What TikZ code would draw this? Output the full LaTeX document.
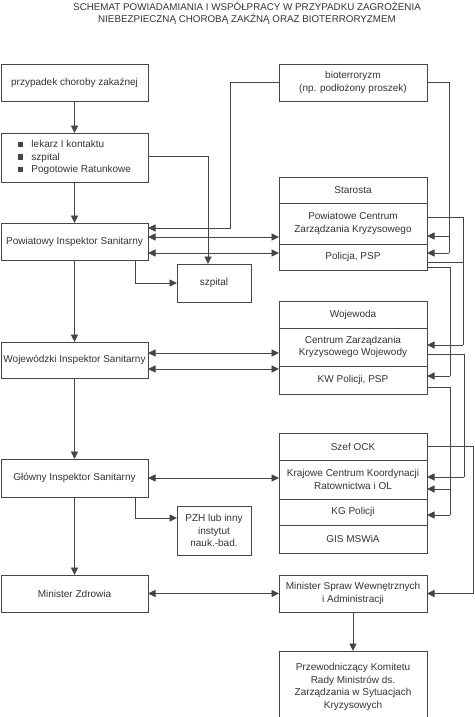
\documentclass[tikz,border=0pt]{standalone}
\usepackage{fontspec}
\setmainfont{Liberation Sans}
\usetikzlibrary{arrows.meta,calc}
\definecolor{lnc}{HTML}{454545}
\definecolor{txc}{HTML}{333333}
\newcommand{\bsq}{\textcolor{lnc}{\rule[0.3pt]{5.5pt}{5.5pt}}\hspace{8pt}}
\begin{document}
\begin{tikzpicture}[x=1pt,y=-1pt,
  box/.style={draw=lnc,line width=0.9pt,anchor=north west,inner sep=1pt,outer sep=0pt,align=center,text=txc,font=\fontsize{10}{12.7}\selectfont},
  lbox/.style={box,minimum width=147pt},
  rbox/.style={box,minimum width=148pt},
  sbox/.style={box,minimum width=74pt},
  wire/.style={draw=lnc,line width=0.9pt},
  arr/.style={wire,-{Triangle[length=7.5pt,width=7pt]}},
  arrb/.style={wire,{Triangle[length=7.5pt,width=7pt]}-{Triangle[length=7.5pt,width=7pt]}}]
\useasboundingbox (0,0) rectangle (474,717);

\node[text=txc,align=center,font=\fontsize{9.8}{12}\selectfont] (title) at (247,13)
  {SCHEMAT POWIADAMIANIA I WSPÓŁPRACY W PRZYPADKU ZAGROŻENIA\\NIEBEZPIECZNĄ CHOROBĄ ZAKŹNĄ ORAZ BIOTERRORYZMEM};

% left column
\node[lbox,minimum height=37pt] (prz) at (1,64) {przypadek choroby zakaźnej};
\node[lbox,minimum height=49pt,align=left] (lek) at (1,133)
  {\bsq lekarz I kontaktu\\\bsq szpital\\\bsq Pogotowie Ratunkowe};
\node[lbox,minimum height=37pt] (pis) at (1,223) {Powiatowy Inspektor Sanitarny};
\node[lbox,minimum height=36pt] (wis) at (1,342) {Wojewódzki Inspektor Sanitarny};
\node[lbox,minimum height=38pt] (gis) at (1,459) {Główny Inspektor Sanitarny};
\node[lbox,minimum height=37pt] (mz) at (1,575) {Minister Zdrowia};

% middle column
\node[sbox,minimum height=38pt] (szp) at (177,264) {szpital};
\node[sbox,minimum height=49pt] (pzh) at (177,506) {PZH lub inny\\instytut\\nauk.-bad.};

% right column
\node[rbox,minimum height=37pt] (bio) at (279,64) {bioterroryzm\\(np. podłożony proszek)};
\node[rbox,minimum height=26pt] (staro) at (279,177) {Starosta};
\node[rbox,minimum height=41pt] (pczk) at (279,203) {Powiatowe Centrum\\Zarządzania Kryzysowego};
\node[rbox,minimum height=26pt] (pol) at (279,244) {Policja, PSP};
\node[rbox,minimum height=27pt] (woj) at (279,301) {Wojewoda};
\node[rbox,minimum height=38pt] (czkw) at (279,328) {Centrum Zarządzania\\Kryzysowego Wojewody};
\node[rbox,minimum height=28pt] (kw) at (279,366) {KW Policji, PSP};
\node[rbox,minimum height=27pt] (szef) at (279,433) {Szef OCK};
\node[rbox,minimum height=39pt] (kckr) at (279,460) {Krajowe Centrum Koordynacji\\Ratownictwa i OL};
\node[rbox,minimum height=26pt] (kgp) at (279,499) {KG Policji};
\node[rbox,minimum height=28pt] (gmsw) at (279,525) {GIS MSWiA};
\node[rbox,minimum height=37pt] (msw) at (279,575) {Minister Spraw Wewnętrznych\\i Administracji};
\node[rbox,minimum height=72pt] (prze) at (279,651) {Przewodniczący Komitetu\\Rady Ministrów ds.\\Zarządzania w Sytuacjach\\Kryzysowych};

% left connectors
\coordinate (c1) at (230,228);
\draw[arr] (bio.west) -| (c1) -- (pis.east |- c1);
\draw[arr] (prz.south) -- (lek.north);
\draw[arr] (lek.south) -- (pis.north);
\coordinate (c2) at (208,156);
\draw[arr] (lek.east |- c2) -| (szp.north -| c2);
\coordinate (ya) at (0,237);
\draw[arrb] (pis.east |- ya) -- (pczk.west |- ya);
\coordinate (yb) at (0,253);
\draw[arrb] (pis.east |- yb) -- (pol.west |- yb);
\coordinate (c3) at (135,0);
\draw[arr] (pis.south -| c3) |- (szp.west);
\draw[arr] (pis.south) -- (wis.north);
\coordinate (yc) at (0,353);
\draw[arrb] (wis.east |- yc) -- (czkw.west |- yc);
\coordinate (yd) at (0,369);
\draw[arrb] (wis.east |- yd) -- (kw.west |- yd);
\draw[arr] (wis.south) -- (gis.north);
\coordinate (ye) at (0,478);
\draw[arrb] (gis.east |- ye) -- (kckr.west |- ye);
\coordinate (c4) at (135,518);
\draw[arr] (gis.south -| c4) |- (pzh.west |- c4);
\draw[arr] (gis.south) -- (mz.north);
\draw[arrb] (mz.east) -- (msw.west);
\draw[arr] (msw.south) -- (prze.north);

% right connectors
\coordinate (r1) at (449,253);
\draw[wire] (bio.east) -| (r1);
\draw[arr] (r1) -- (pol.east |- r1);
\coordinate (r2) at (449,236);
\draw[arr] (r2) -- (pczk.east |- r2);
\coordinate (r3) at (463,345);
\coordinate (r3a) at (0,217);
\draw[wire] (pczk.east |- r3a) -| (r3);
\coordinate (r3b) at (0,262);
\draw[wire] (pol.east |- r3b) -- (r3 |- r3b);
\draw[arr] (r3) -- (czkw.east |- r3);
\coordinate (r4) at (450,376);
\coordinate (r4a) at (0,267);
\draw[wire] (pol.east |- r4a) -| (r4);
\draw[arr] (r4) -- (kw.east |- r4);
\coordinate (r5) at (464,477);
\coordinate (r5a) at (0,354);
\draw[wire] (czkw.east |- r5a) -| (r5);
\draw[arr] (r5) -- (kckr.east |- r5);
\coordinate (r6) at (450,515);
\coordinate (r6a) at (0,387);
\draw[wire] (kw.east |- r6a) -| (r6);
\draw[arr] (r6) -- (kgp.east |- r6);
\coordinate (r6b) at (450,489);
\draw[arr] (r6b) -- (kckr.east |- r6b);
\coordinate (r7) at (473,593.5);
\draw[wire] (szef.east) -| (r7);
\draw[arr] (r7) -- (msw.east);
\end{tikzpicture}
\end{document}
